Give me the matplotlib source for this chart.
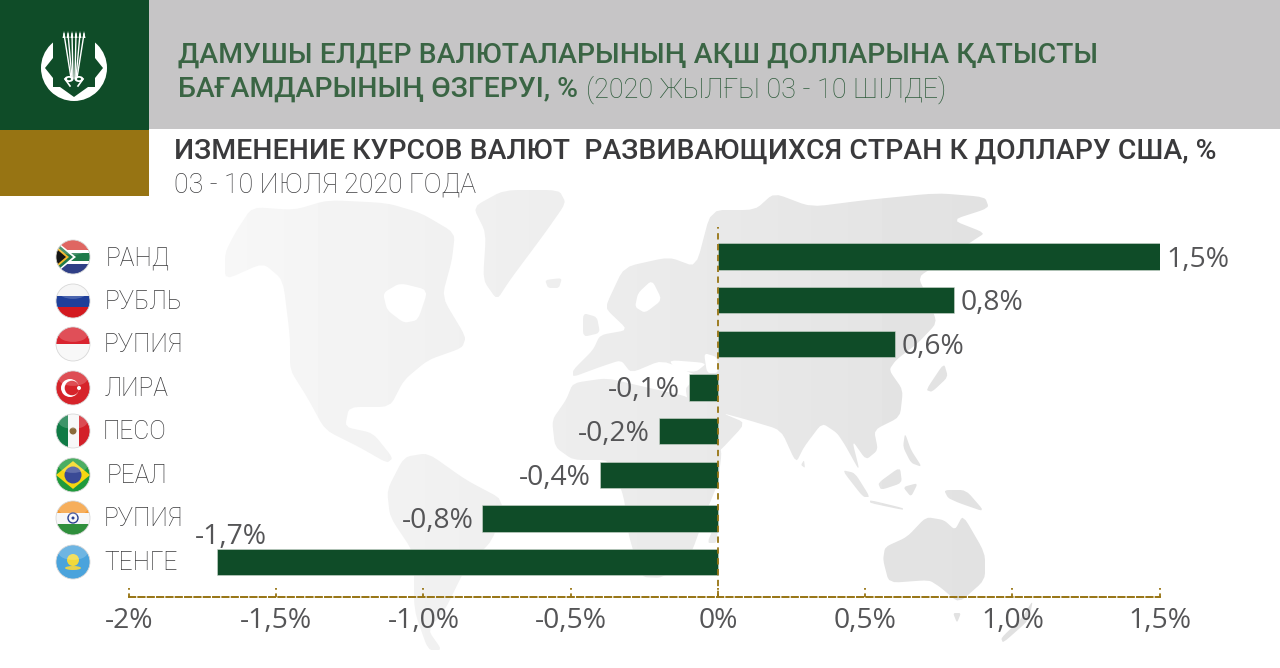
import matplotlib
matplotlib.use('Agg')
import matplotlib.pyplot as plt
import numpy as np
from matplotlib.patches import Circle, Polygon, Rectangle, Ellipse, PathPatch
from matplotlib.path import Path

# chart data
currencies = ['РАНД', 'РУБЛЬ', 'РУПИЯ', 'ЛИРА', 'ПЕСО', 'РЕАЛ', 'РУПИЯ', 'ТЕНГЕ']
changes = [1.5, 0.8, 0.6, -0.1, -0.2, -0.4, -0.8, -1.7]
value_labels = ['1,5%', '0,8%', '0,6%', '-0,1%', '-0,2%', '-0,4%', '-0,8%', '-1,7%']
tick_values = [-2, -1.5, -1, -0.5, 0, 0.5, 1, 1.5]
tick_labels = ['-2%', '-1,5%', '-1,0%', '-0,5%', '0%', '0,5%', '1,0%', '1,5%']
flags = ['za', 'ru', 'id', 'tr', 'mx', 'br', 'in', 'kz']

title_kz = ['ДАМУШЫ ЕЛДЕР ВАЛЮТАЛАРЫНЫҢ АҚШ ДОЛЛАРЫНА ҚАТЫСТЫ',
            'БАҒАМДАРЫНЫҢ ӨЗГЕРУІ, %']
dates_kz = '(2020 ЖЫЛҒЫ 03 - 10 ШІЛДЕ)'
title_ru = 'ИЗМЕНЕНИЕ КУРСОВ ВАЛЮТ  РАЗВИВАЮЩИХСЯ СТРАН К ДОЛЛАРУ США, %'
dates_ru = '03 - 10 ИЮЛЯ 2020 ГОДА'

GREEN = '#0f4c28'
GOLD = '#977413'
GRAY = '#c6c5c6'
TEXT_GREEN = '#3a6544'
TEXT_DARK = '#3a3a3c'
TEXT_GREY = '#555557'

W, H = 1280, 668
fig = plt.figure(figsize=(W / 100, H / 100), dpi=100, facecolor='white')

# overlay in pixel coordinates for the header, map and flags
bg = fig.add_axes([0, 0, 1, 1], zorder=0)
bg.axis('off')


def smooth(poly, rounds=2):
    pts = np.array(poly, dtype=float)
    for _ in range(rounds):
        nxt = np.roll(pts, -1, axis=0)
        pts = np.column_stack([0.85 * pts + 0.15 * nxt, 0.15 * pts + 0.85 * nxt]).reshape(-1, 2)
    return [tuple(p) for p in pts]


# background world map, rough outlines
land = [
    # north america
    [(225, 253), (235, 233), (252, 207), (294, 210), (328, 200), (387, 203), (421, 213), (455, 233),
     (452, 260), (442, 297), (466, 337), (462, 348), (428, 360), (404, 380), (390, 407), (349, 407),
     (345, 427), (373, 433), (393, 458), (387, 463), (359, 447), (325, 430), (307, 397), (290, 370),
     (290, 337), (283, 280), (263, 263), (225, 280)],
    # greenland
    [(473, 207), (504, 190), (559, 190), (566, 203), (545, 233), (510, 280), (497, 300), (483, 280), (486, 233)],
    # iceland, uk
    [(545, 280), (562, 278), (559, 288), (548, 288)],
    [(583, 313), (597, 317), (600, 333), (583, 337)],
    # eurasia
    [(607, 303), (624, 267), (669, 257), (696, 267), (711, 210), (755, 210), (774, 193), (811, 207),
     (866, 200), (937, 193), (985, 197), (989, 208), (952, 220), (985, 233), (974, 240), (940, 263),
     (918, 277), (929, 300), (937, 323), (918, 343), (896, 360), (889, 370), (903, 390), (900, 417),
     (874, 430), (878, 450), (866, 460), (852, 440), (860, 472), (845, 445), (837, 433), (822, 423),
     (804, 447), (796, 463), (781, 430), (748, 420), (722, 413), (746, 423), (718, 453), (707, 450),
     (689, 410), (685, 385), (717, 377), (700, 377), (662, 360), (631, 373), (621, 360), (600, 367),
     (573, 377), (573, 370), (593, 350), (600, 335), (628, 330), (607, 310)],
    # africa
    [(573, 383), (607, 378), (645, 387), (690, 397), (710, 420), (722, 450), (718, 483), (707, 510),
     (690, 557), (662, 578), (641, 577), (628, 533), (624, 497), (610, 460), (573, 460), (555, 447),
     (552, 420), (566, 400)],
    [(718, 518), (717, 543), (707, 543)],
    # south america
    [(387, 490), (404, 457), (428, 453), (466, 480), (504, 500), (493, 540), (466, 567), (445, 610),
     (428, 630), (442, 650), (428, 650), (414, 610), (414, 553), (390, 517)],
    # australia and oceania
    [(885, 547), (907, 537), (926, 517), (944, 520), (955, 530), (963, 515), (985, 553), (985, 580),
     (959, 603), (940, 587), (929, 580), (889, 583), (883, 560)],
    [(953, 613), (961, 613), (957, 623)],
    [(1033, 600), (1029, 620), (1003, 643), (1001, 638), (1022, 618)],
    [(944, 490), (966, 490), (985, 512), (959, 503), (948, 498)],
    # indonesia, philippines, japan, sri lanka
    [(878, 483), (900, 467), (902, 483), (881, 490)],
    [(842, 470), (855, 473), (870, 497), (863, 497)],
    [(870, 500), (903, 508), (903, 510), (870, 503)],
    [(903, 487), (918, 483), (911, 497)],
    [(905, 433), (911, 450), (922, 467), (911, 463), (903, 447)],
    [(926, 390), (944, 363), (948, 377), (932, 392)],
    [(804, 460), (805, 468), (801, 465)],
]
verts, codes = [], []
for poly in land:
    poly = smooth(poly)
    verts += poly + [poly[0]]
    codes += [Path.MOVETO] + [Path.LINETO] * (len(poly) - 1) + [Path.CLOSEPOLY]
land_path = PathPatch(Path(verts, codes), transform=bg.transData, facecolor='none', edgecolor='none')
bg.add_patch(land_path)
shade = np.linspace(0.97, 0.875, 256).reshape(1, -1)
im = bg.imshow(shade, extent=(200, 1060, 668, 190), cmap='gray', vmin=0, vmax=1, aspect='auto', zorder=1)
im.set_clip_path(land_path)
water = [
    [(383, 293), (400, 283), (428, 290), (418, 320), (404, 323), (387, 310)],
    [(669, 360), (707, 363), (696, 372), (676, 370)],
    [(704, 353), (717, 357), (718, 373), (707, 373)],
    [(638, 293), (652, 280), (662, 300), (645, 313), (635, 307)],
]
for poly in water:
    bg.add_patch(Polygon(smooth(poly), facecolor='white', edgecolor='none', zorder=2))

# header blocks
bg.add_patch(Rectangle((149, 0), W - 149, 129, facecolor=GRAY, edgecolor='none', zorder=3))
bg.add_patch(Rectangle((0, 0), 149, 130, facecolor=GREEN, edgecolor='none', zorder=3))
bg.add_patch(Rectangle((0, 130), 149, 66, facecolor=GOLD, edgecolor='none', zorder=3))

# logo
lx, ly = 74, 68
bg.add_patch(Circle((lx, ly), 33, facecolor='white', edgecolor='none', zorder=4))
bg.add_patch(Rectangle((lx - 21, ly - 40), 42, 59, facecolor=GREEN, edgecolor='none', zorder=5))
for s in (-1, 1):
    bg.add_patch(Polygon([(lx + s * 29, ly), (lx + s * 21, ly - 10), (lx + s * 21, ly + 10)],
                         facecolor=GREEN, edgecolor='none', zorder=5))
bg.add_patch(Polygon([(lx - 14, ly + 19), (lx, ly + 29), (lx + 14, ly + 19)], facecolor=GREEN, edgecolor='none', zorder=5))
for top, bottom in [(-10, -3), (-6, -2), (-2, -1), (2, 1), (6, 2), (10, 3)]:
    bg.plot([lx + bottom, lx + top], [ly + 10, ly - 34], color='white', lw=1.0, zorder=6)
    bg.add_patch(Polygon([(lx + top, ly - 37), (lx + top - 1.5, ly - 30), (lx + top + 1.5, ly - 30)],
                         facecolor='white', edgecolor='none', zorder=6))
for s in (-1, 1):
    bg.add_patch(Ellipse((lx + s * 5, ly + 11), 9, 6, facecolor='white', edgecolor='none', zorder=6))
    bg.add_patch(Ellipse((lx + s * 5, ly + 11), 4, 2.5, facecolor=GREEN, edgecolor='none', zorder=6))
    bg.plot([lx + s * 9, lx + s * 4], [ly + 11, ly + 18], color='white', lw=1.2, zorder=6)


def flag(code, cx, cy, r=17):
    clip = Circle((cx, cy), r, transform=bg.transData)
    parts = []

    def band(y0, y1, c):
        parts.append(Rectangle((cx - r, cy - r + y0 * 2 * r), 2 * r, (y1 - y0) * 2 * r, facecolor=c, edgecolor='none'))

    def vband(x0, x1, c):
        parts.append(Rectangle((cx - r + x0 * 2 * r, cy - r), (x1 - x0) * 2 * r, 2 * r, facecolor=c, edgecolor='none'))

    if code == 'za':
        band(0, .5, '#d8413c')
        band(.5, 1, '#2f3f86')
        band(.3, .7, 'white')
        band(.38, .62, '#1f7a4a')
        parts.append(Polygon([(cx - r, cy - r * .95), (cx + 3, cy), (cx - r, cy + r * .95)], facecolor='white', edgecolor='none'))
        parts.append(Polygon([(cx - r, cy - r * .85), (cx, cy), (cx - r, cy + r * .85)], facecolor='#1f7a4a', edgecolor='none'))
        parts.append(Polygon([(cx - r, cy - r * .65), (cx - 4, cy), (cx - r, cy + r * .65)], facecolor='#f2b92c', edgecolor='none'))
        parts.append(Polygon([(cx - r, cy - r * .5), (cx - 7, cy), (cx - r, cy + r * .5)], facecolor='#151515', edgecolor='none'))
    elif code == 'ru':
        band(0, .34, '#f4f4f4')
        band(.34, .67, '#1f3f9a')
        band(.67, 1, '#d3191f')
    elif code == 'id':
        band(0, .5, '#d9242f')
        band(.5, 1, '#f8f8f8')
    elif code == 'tr':
        band(0, 1, '#d6232a')
        parts.append(Circle((cx - 3, cy), 9, facecolor='white', edgecolor='none'))
        parts.append(Circle((cx - 1, cy), 7.3, facecolor='#d6232a', edgecolor='none'))
        parts.append(Circle((cx + 6, cy), 2, facecolor='white', edgecolor='none'))
    elif code == 'mx':
        vband(0, .34, '#0f7a45')
        vband(.34, .67, '#f7f7f7')
        vband(.67, 1, '#d32029')
        parts.append(Circle((cx, cy), 3.5, facecolor='#8a6a3a', edgecolor='none'))
    elif code == 'br':
        band(0, 1, '#1f9a3c')
        parts.append(Polygon([(cx - r, cy), (cx, cy - r * .82), (cx + r, cy), (cx, cy + r * .82)], facecolor='#f6d610', edgecolor='none'))
        parts.append(Circle((cx, cy), 8.5, facecolor='#3a4a96', edgecolor='none'))
    elif code == 'in':
        band(0, .34, '#f49a33')
        band(.34, .67, '#f7f7f7')
        band(.67, 1, '#2f8f3c')
        parts.append(Circle((cx, cy), 5, facecolor='none', edgecolor='#2a3f8f', lw=1))
        parts.append(Circle((cx, cy), 1.5, facecolor='#2a3f8f', edgecolor='none'))
    elif code == 'kz':
        band(0, 1, '#4aa3dc')
        parts.append(Circle((cx, cy - 2), 6, facecolor='#f2d93a', edgecolor='none'))
        parts.append(Ellipse((cx, cy + 6), 16, 4, facecolor='#e8d24a', edgecolor='none'))
    for p in parts:
        p.set_zorder(4)
        bg.add_patch(p)
        p.set_clip_path(clip)
    # glossy highlight
    hi = Ellipse((cx, cy - r * .55), 1.7 * r, r * .85, facecolor='white', edgecolor='none', alpha=.2, zorder=5)
    bg.add_patch(hi)
    hi.set_clip_path(clip)
    bg.add_patch(Circle((cx, cy), r, facecolor='none', edgecolor='#d8d8d8', lw=.6, zorder=5))


flag_y = [257, 301, 344, 388, 431, 475, 518, 562]
label_x = [106, 105, 104, 105, 103, 107, 104, 104]
for code, name, y, x in zip(flags, currencies, flag_y, label_x):
    flag(code, 73, y)
    bg.text(x, y + 1, name, family='Roboto', fontweight='light', fontsize=17.7, color=TEXT_DARK,
            ha='left', va='center', zorder=7)

# titles
bg.text(178, 55, title_kz[0], family='Roboto', fontweight='medium', fontsize=20.4, color=TEXT_GREEN, va='center', zorder=7)
bg.text(178, 89, title_kz[1], family='Roboto', fontweight='medium', fontsize=20.4, color=TEXT_GREEN, va='center', zorder=7)
bg.text(586, 90, dates_kz, family='Roboto', fontweight='light', fontsize=19.5, color='#2f5c3c', va='center', zorder=7)
bg.text(174, 151, title_ru, family='Roboto', fontweight='medium', fontsize=20.45, color=TEXT_DARK, va='center', zorder=7)
bg.text(174, 185, dates_ru, family='Roboto', fontweight='light', fontsize=19.3, color='#3f3f41', va='center', zorder=7)
bg.set_xlim(0, W)
bg.set_ylim(H, 0)

# bar chart, placed so the axis runs from x=129 to x=1159.7 and y=227 to y=597
ax = fig.add_axes([129 / W, (H - 597) / H, (1159.7 - 129) / W, (597 - 227) / H], zorder=1)
ax.patch.set_alpha(0)
pos = np.arange(len(currencies))
ax.barh(pos, changes, height=0.6, color=GREEN, edgecolor='#cfd8cf', linewidth=0.4, zorder=2)
ax.set_xlim(-2, 1.5)
ax.set_ylim(7.8, -0.676)
ax.set_xticks(tick_values)
ax.set_xticklabels(tick_labels, family='Open Sans', fontsize=20.3, color=TEXT_GREY)
ax.set_yticks([])
ax.tick_params(axis='x', length=0, pad=7)
ax.vlines(tick_values, 7.8, 7.59, color=GOLD, lw=1.3, ls=(0, (2, 2)), zorder=3, clip_on=False)
for s in ['top', 'left', 'right']:
    ax.spines[s].set_visible(False)
ax.spines['bottom'].set_color(GOLD)
ax.spines['bottom'].set_linewidth(1.4)
ax.spines['bottom'].set_linestyle((0, (3.2, 1.6)))
ax.axvline(0, color=GOLD, lw=1.3, ls=(0, (3.5, 2.5)), zorder=3)

for i, (v, lab) in enumerate(zip(changes, value_labels)):
    if lab == '-1,7%':
        ax.annotate(lab, (v, i), xytext=(14, 25), textcoords='offset pixels', ha='center', va='center',
                    family='Open Sans', fontsize=20.3, color=TEXT_GREY)
    elif v > 0:
        ax.annotate(lab, (v, i), xytext=(7, -3), textcoords='offset pixels', ha='left', va='center',
                    family='Open Sans', fontsize=20.3, color=TEXT_GREY)
    else:
        ax.annotate(lab, (v, i), xytext=(-9, -3), textcoords='offset pixels', ha='right', va='center',
                    family='Open Sans', fontsize=20.3, color=TEXT_GREY)

fig.savefig('out.png', dpi=100)
